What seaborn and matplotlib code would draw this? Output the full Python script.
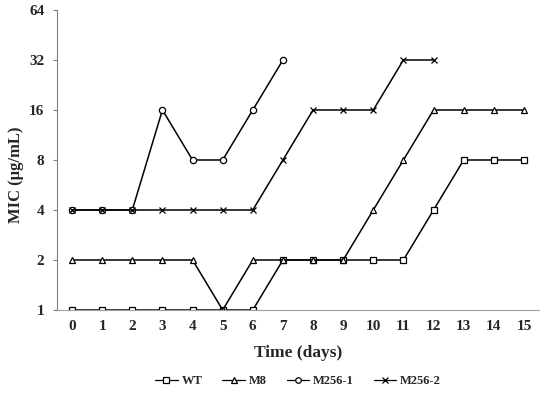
import numpy as np
import pandas as pd
import matplotlib
matplotlib.use('Agg')
import matplotlib.pyplot as plt
import seaborn as sns

# Data
days = list(range(16))
wt = [1, 1, 1, 1, 1, 1, 1, 2, 2, 2, 2, 2, 4, 8, 8, 8]
m8 = [2, 2, 2, 2, 2, 1, 2, 2, 2, 2, 4, 8, 16, 16, 16, 16]
m256_1 = [4, 4, 4, 16, 8, 8, 16, 32]
m256_2 = [4, 4, 4, 4, 4, 4, 4, 8, 16, 16, 16, 32, 32]
y_ticks = [1, 2, 4, 8, 16, 32, 64]

series = [
    ('WT', wt, 's'),
    ('M8', m8, '^'),
    ('M256-1', m256_1, 'o'),
    ('M256-2', m256_2, 'x'),
]

sns.set_style('white')
plt.rcParams['font.family'] = ['Liberation Serif', 'DejaVu Serif']
plt.rcParams['font.weight'] = 'bold'

fig = plt.figure(figsize=(5.5, 3.93), dpi=100)
ax = fig.add_axes([0.1036, 0.2112, 0.8764, 0.7634])

for name, vals, mk in series:
    df = pd.DataFrame({'day': days[:len(vals)], 'mic': vals})
    sns.lineplot(data=df, x='day', y='mic', ax=ax, color='black', lw=1.1,
                 marker=mk, markersize=4.5 if mk != 'x' else 5,
                 markerfacecolor='white', markeredgecolor='black',
                 markeredgewidth=0.9, label=name)

ax.set_yscale('log', base=2)
ax.set_ylim(1, 64)
ax.set_yticks(y_ticks)
ax.set_yticklabels([str(v) for v in y_ticks])
ax.minorticks_off()
ax.set_xlim(-0.5, 15.5)
ax.set_xticks(days)
ax.set_xticklabels([str(d) for d in days])

for s in ['top', 'right']:
    ax.spines[s].set_visible(False)
ax.spines['left'].set_color('#808080')
ax.spines['bottom'].set_color('#a0a0a0')
ax.tick_params(axis='y', length=3, color='#808080', direction='out', left=True,
               labelsize=11, pad=6)
ax.tick_params(axis='x', length=0, labelsize=11, pad=7)
for lbl in ax.get_xticklabels() + ax.get_yticklabels():
    lbl.set_fontweight('bold')

ax.set_xlabel('Time (days)', fontsize=12.5, fontweight='bold', labelpad=9)
ax.set_ylabel('MIC (μg/mL)', fontsize=12, fontweight='bold')
ax.yaxis.set_label_coords(-0.068, 0.45)

leg = ax.legend(loc='center', bbox_to_anchor=(0.5, -0.237), ncol=4, frameon=False,
                handlelength=1.8, handletextpad=0.3, columnspacing=1.6,
                prop={'weight': 'bold', 'size': 9})
for h in leg.legend_handles:
    h.set_markersize(4)
    h.set_linewidth(0.9)

fig.savefig('out.png', dpi=100)
